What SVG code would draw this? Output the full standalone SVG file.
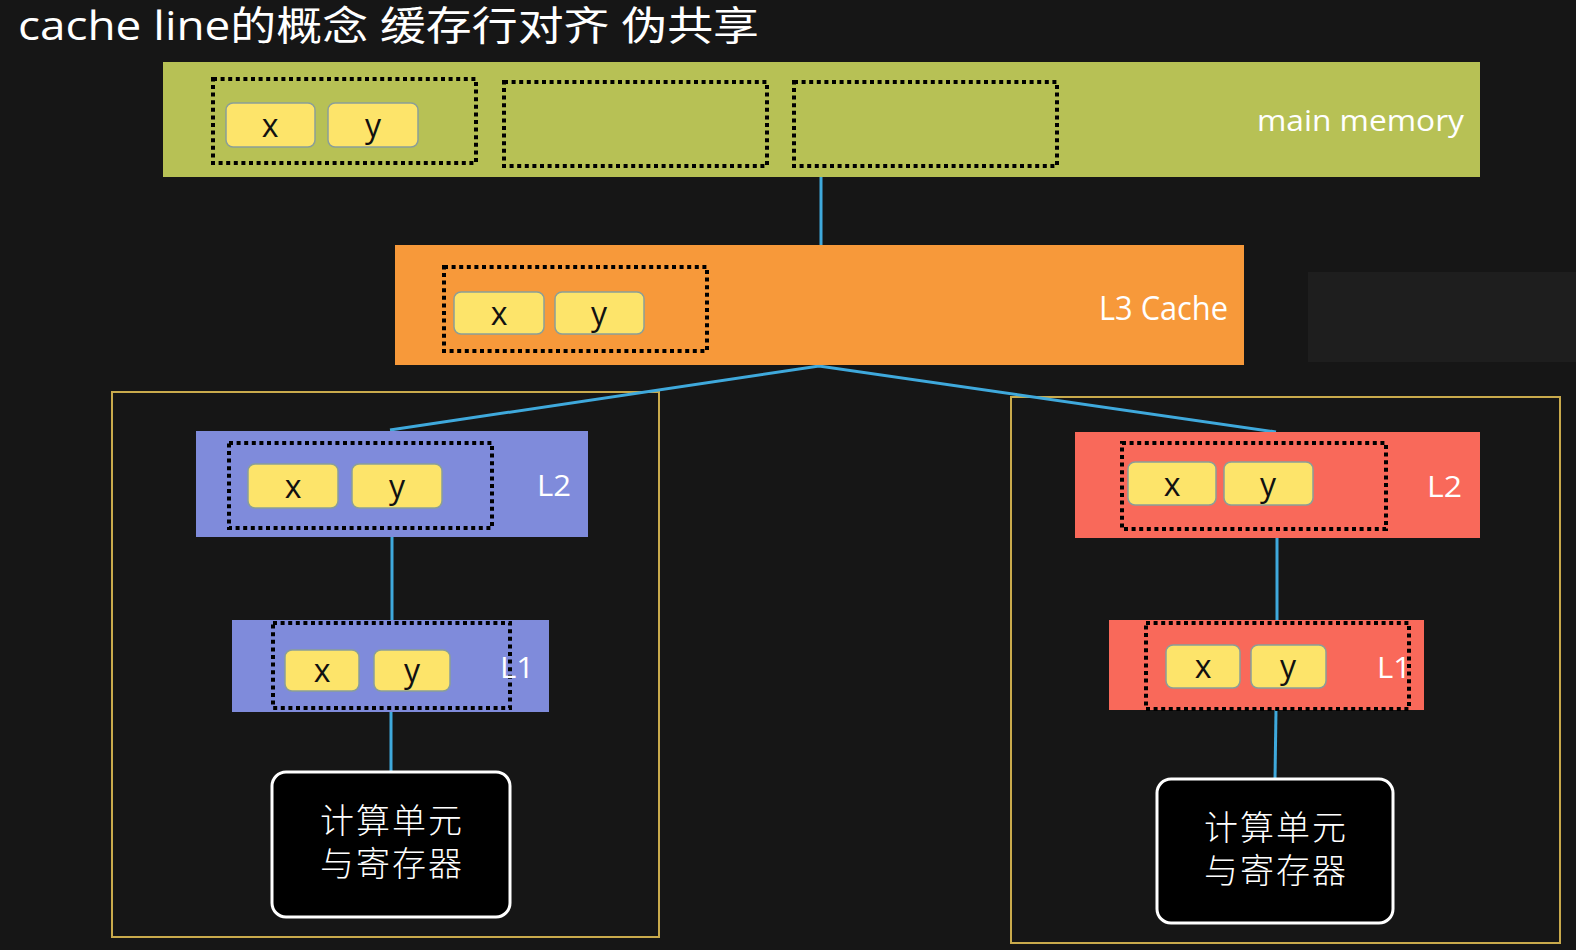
<svg xmlns="http://www.w3.org/2000/svg" width="1576" height="950" viewBox="0 0 1576 950">
<style>
.dot{fill:none;stroke:#000;stroke-width:4;stroke-dasharray:4 3.6}
.cell{fill:#fde46a;stroke:#8a9e98;stroke-width:1.5}
.ct{font-family:"Open Sans","Liberation Sans",sans-serif;font-size:32px;fill:#111;text-anchor:middle}
.lbl{font-family:"Open Sans","Liberation Sans",sans-serif;fill:#fff}
.conn{stroke:#3fa9dc;stroke-width:3;fill:none}
.frame{fill:none;stroke:#c9aa4c;stroke-width:2}
.cu{fill:#000;stroke:#fff;stroke-width:3}
.cjk{font-family:"Noto Sans CJK SC","Noto Sans",sans-serif;font-size:34px;font-weight:300;fill:#fff;text-anchor:middle}
</style>
<rect x="0" y="0" width="1576" height="950" fill="#161616"/>
<rect x="1308" y="272" width="268" height="90" fill="#1e1e1e"/>
<text x="18" y="40" font-family="Open Sans,Noto Sans CJK SC,sans-serif" font-size="40" fill="#fff" textLength="741" lengthAdjust="spacingAndGlyphs">cache line的概念 缓存行对齐 伪共享</text>

<g id="frames">
<rect class="frame" x="112" y="392" width="547" height="545"/>
<rect class="frame" x="1011" y="397" width="549" height="546"/>
</g>

<g id="connectors">
<line class="conn" x1="821" y1="177" x2="821" y2="245"/>
<polyline class="conn" points="390,430 819,366 1276,432"/>
<line class="conn" x1="392" y1="537" x2="392" y2="621"/>
<line class="conn" x1="391" y1="710" x2="391" y2="773"/>
<line class="conn" x1="1277" y1="538" x2="1277" y2="621"/>
<line class="conn" x1="1276" y1="710" x2="1275" y2="779"/>
</g>

<g id="main-memory">
<rect x="163" y="62" width="1317" height="115" fill="#b7c155"/>
<rect class="dot" x="213" y="79" width="263" height="84"/>
<rect class="dot" x="504" y="82" width="263" height="84"/>
<rect class="dot" x="794" y="82" width="263" height="84"/>
<rect class="cell" x="226" y="103" width="89" height="44" rx="7"/>
<rect class="cell" x="328" y="103" width="90" height="44" rx="7"/>
<text class="ct" x="270" y="137">x</text>
<text class="ct" x="373" y="137">y</text>
<text class="lbl" x="1257" y="131" font-size="30" textLength="207" lengthAdjust="spacingAndGlyphs">main memory</text>
</g>

<g id="l3-cache">
<rect x="395" y="245" width="849" height="120" fill="#f7993a"/>
<rect class="dot" x="444" y="267" width="263" height="84"/>
<rect class="cell" x="454" y="292" width="90" height="42" rx="7"/>
<rect class="cell" x="555" y="292" width="89" height="42" rx="7"/>
<text class="ct" x="499" y="325">x</text>
<text class="ct" x="599" y="325">y</text>
<text class="lbl" x="1099" y="320" font-size="32" textLength="129" lengthAdjust="spacingAndGlyphs">L3 Cache</text>
</g>

<g id="left-l2">
<rect x="196" y="431" width="392" height="106" fill="#7f8bdb"/>
<rect class="dot" x="229" y="443" width="263" height="85"/>
<rect class="cell" x="248" y="464" width="90" height="44" rx="7"/>
<rect class="cell" x="352" y="464" width="90" height="44" rx="7"/>
<text class="ct" x="293" y="498">x</text>
<text class="ct" x="397" y="498">y</text>
<text class="lbl" x="537" y="496" font-size="30" textLength="34" lengthAdjust="spacingAndGlyphs">L2</text>
</g>

<g id="left-l1">
<rect x="232" y="620" width="317" height="92" fill="#7f8bdb"/>
<rect class="dot" x="273" y="623" width="237" height="85"/>
<rect class="cell" x="285" y="650" width="74" height="41" rx="7"/>
<rect class="cell" x="374" y="650" width="76" height="41" rx="7"/>
<text class="ct" x="322" y="682">x</text>
<text class="ct" x="412" y="682">y</text>
<text class="lbl" x="500" y="678" font-size="30" textLength="34" lengthAdjust="spacingAndGlyphs">L1</text>
</g>

<g id="left-cpu">
<rect class="cu" x="272" y="772" width="238" height="145" rx="14"/>
<text class="cjk" x="391" y="833"><tspan x="391" textLength="142">计算单元</tspan><tspan x="391" dy="43" textLength="142">与寄存器</tspan></text>
</g>

<g id="right-l2">
<rect x="1075" y="432" width="405" height="106" fill="#f9695a"/>
<rect class="dot" x="1122" y="443" width="264" height="86"/>
<rect class="cell" x="1128" y="462" width="88" height="43" rx="7"/>
<rect class="cell" x="1224" y="462" width="89" height="43" rx="7"/>
<text class="ct" x="1172" y="496">x</text>
<text class="ct" x="1268" y="496">y</text>
<text class="lbl" x="1427" y="497" font-size="30" textLength="35" lengthAdjust="spacingAndGlyphs">L2</text>
</g>

<g id="right-l1">
<rect x="1109" y="620" width="315" height="90" fill="#f9695a"/>
<rect class="dot" x="1146" y="623" width="263" height="86"/>
<rect class="cell" x="1166" y="645" width="74" height="43" rx="7"/>
<rect class="cell" x="1251" y="645" width="75" height="43" rx="7"/>
<text class="ct" x="1203" y="678">x</text>
<text class="ct" x="1288" y="678">y</text>
<text class="lbl" x="1377" y="678" font-size="30" textLength="34" lengthAdjust="spacingAndGlyphs">L1</text>
</g>

<g id="right-cpu">
<rect class="cu" x="1157" y="779" width="236" height="144" rx="14"/>
<text class="cjk" x="1275" y="840"><tspan x="1275" textLength="142">计算单元</tspan><tspan x="1275" dy="43" textLength="142">与寄存器</tspan></text>
</g>
</svg>
